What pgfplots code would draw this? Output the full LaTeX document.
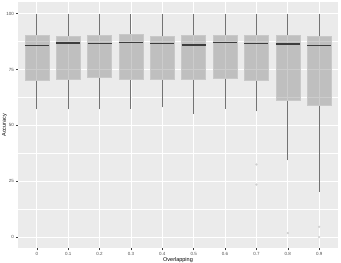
\documentclass[border=0pt]{standalone}
\usepackage{fontspec}
\setmainfont{Liberation Sans}
\usepackage{pgfplots}
\pgfplotsset{compat=1.18}
\definecolor{panel}{HTML}{EBEBEB}
\definecolor{boxfill}{HTML}{6D6D6D}
\definecolor{boxline}{HTML}{C9C9C9}
\definecolor{whisk}{HTML}{737373}
\definecolor{med}{HTML}{3D3D3D}
\definecolor{outl}{HTML}{CFCFCF}
\definecolor{ticklab}{HTML}{4D4D4D}
\pgfplotsset{
  bx/.style={fill=boxfill, fill opacity=0.35, draw=boxline, line width=0.5pt},
  wk/.style={draw=whisk, line width=0.9pt},
  md/.style={draw=med, line width=1.2pt},
}
\begin{document}
\begin{tikzpicture}
\path[use as bounding box] (0,0) rectangle (341pt,263pt);
\begin{axis}[
  at={(18pt,14.7pt)}, anchor=south west,
  scale only axis, width=320pt, height=246.3pt,
  xmin=-0.6, xmax=9.6, ymin=-5, ymax=105.2,
  axis background/.style={fill=panel},
  axis line style={draw=none},
  xtick={0,1,2,3,4,5,6,7,8,9},
  xticklabels={0,0.1,0.2,0.3,0.4,0.5,0.6,0.7,0.8,0.9},
  ytick={0,25,50,75,100},
  minor ytick={12.5,37.5,62.5,87.5},
  grid=both,
  major grid style={white, line width=0.8pt},
  minor grid style={white, line width=0.4pt},
  tick align=outside,
  major tick length=2pt, minor tick length=0pt,
  xtick pos=left, ytick pos=left,
  tick style={draw=med, line width=0.4pt},
  tick label style={font=\fontsize{4.5}{5}\selectfont, text=ticklab},
  xticklabel style={yshift=1.5pt},
  yticklabel style={xshift=1.5pt},
  /pgf/number format/assume math mode=true,
  xlabel={Overlapping}, ylabel={Accuracy},
  label style={font=\fontsize{5.5}{6}\selectfont},
  xlabel style={at={([yshift=-12pt]axis description cs:0.5,0)}, anchor=center},
  ylabel style={at={([xshift=-13.5pt]axis description cs:0,0.5)}, anchor=center},
]
% whiskers
\addplot[wk] coordinates {(0,57.2) (0,70.2)};   \addplot[wk] coordinates {(0,90.3) (0,100)};
\addplot[wk] coordinates {(1,57.2) (1,70.7)};   \addplot[wk] coordinates {(1,90.0) (1,100)};
\addplot[wk] coordinates {(2,57.2) (2,71.4)};   \addplot[wk] coordinates {(2,90.3) (2,100)};
\addplot[wk] coordinates {(3,57.5) (3,70.7)};   \addplot[wk] coordinates {(3,90.8) (3,100)};
\addplot[wk] coordinates {(4,58.0) (4,70.8)};   \addplot[wk] coordinates {(4,90.0) (4,100)};
\addplot[wk] coordinates {(5,55.1) (5,70.7)};   \addplot[wk] coordinates {(5,90.3) (5,100)};
\addplot[wk] coordinates {(6,57.5) (6,71.2)};   \addplot[wk] coordinates {(6,90.3) (6,100)};
\addplot[wk] coordinates {(7,56.3) (7,70.2)};   \addplot[wk] coordinates {(7,90.2) (7,100)};
\addplot[wk] coordinates {(8,34.3) (8,61.3)};   \addplot[wk] coordinates {(8,90.3) (8,100)};
\addplot[wk] coordinates {(9,20.4) (9,59.0)};   \addplot[wk] coordinates {(9,89.9) (9,100)};
% boxes
\addplot[bx] coordinates {(-0.3825,70.2) (0.3825,70.2) (0.3825,90.3) (-0.3825,90.3)} --cycle;
\addplot[bx] coordinates {(0.6175,70.7) (1.3825,70.7) (1.3825,90.0) (0.6175,90.0)} --cycle;
\addplot[bx] coordinates {(1.6175,71.4) (2.3825,71.4) (2.3825,90.3) (1.6175,90.3)} --cycle;
\addplot[bx] coordinates {(2.6175,70.7) (3.3825,70.7) (3.3825,90.8) (2.6175,90.8)} --cycle;
\addplot[bx] coordinates {(3.6175,70.8) (4.3825,70.8) (4.3825,90.0) (3.6175,90.0)} --cycle;
\addplot[bx] coordinates {(4.6175,70.7) (5.3825,70.7) (5.3825,90.3) (4.6175,90.3)} --cycle;
\addplot[bx] coordinates {(5.6175,71.2) (6.3825,71.2) (6.3825,90.3) (5.6175,90.3)} --cycle;
\addplot[bx] coordinates {(6.6175,70.2) (7.3825,70.2) (7.3825,90.2) (6.6175,90.2)} --cycle;
\addplot[bx] coordinates {(7.6175,61.3) (8.3825,61.3) (8.3825,90.3) (7.6175,90.3)} --cycle;
\addplot[bx] coordinates {(8.6175,59.0) (9.3825,59.0) (9.3825,89.9) (8.6175,89.9)} --cycle;
% medians
\addplot[md] coordinates {(-0.3825,85.9) (0.3825,85.9)};
\addplot[md] coordinates {(0.6175,86.9) (1.3825,86.9)};
\addplot[md] coordinates {(1.6175,86.8) (2.3825,86.8)};
\addplot[md] coordinates {(2.6175,87.2) (3.3825,87.2)};
\addplot[md] coordinates {(3.6175,86.6) (4.3825,86.6)};
\addplot[md] coordinates {(4.6175,86.0) (5.3825,86.0)};
\addplot[md] coordinates {(5.6175,87.0) (6.3825,87.0)};
\addplot[md] coordinates {(6.6175,86.8) (7.3825,86.8)};
\addplot[md] coordinates {(7.6175,86.4) (8.3825,86.4)};
\addplot[md] coordinates {(8.6175,85.6) (9.3825,85.6)};
% outliers
\addplot[only marks, mark=*, mark size=0.9pt, draw=outl, fill=outl] coordinates {
  (7,32.5) (7,23.5) (8,1.8) (9,4.6) (9,0)
};
\end{axis}
\end{tikzpicture}
\end{document}
